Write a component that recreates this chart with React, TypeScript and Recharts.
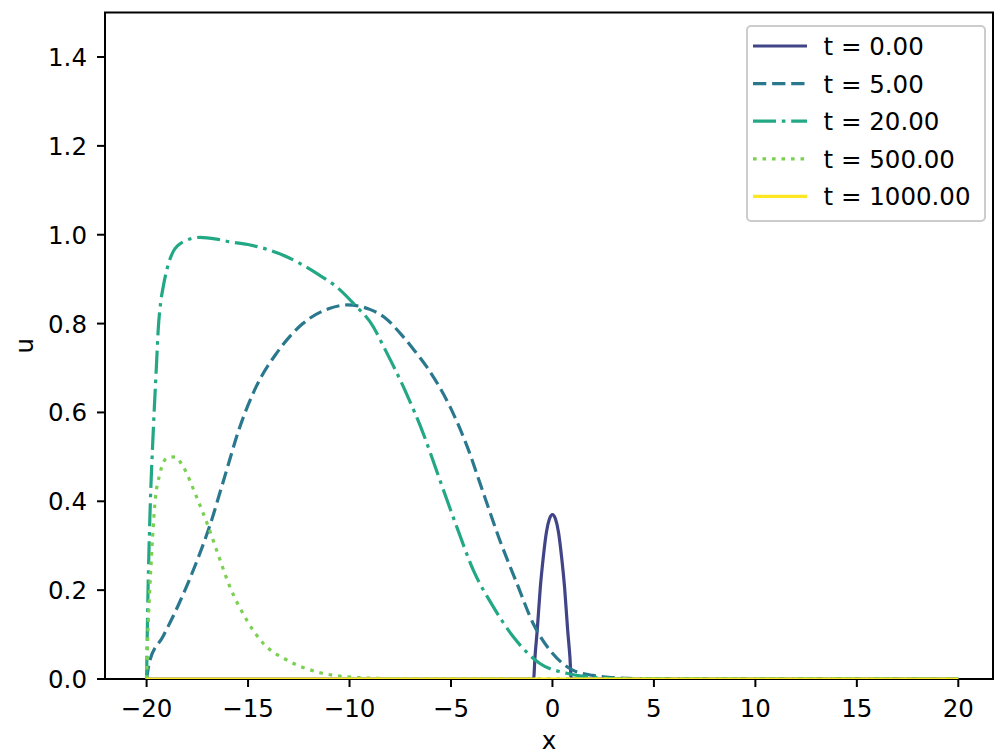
import React from 'react';
import { LineChart, Line, XAxis, YAxis, ReferenceArea, Legend } from 'recharts';

// ---- data ----
const t0X = [-20, -0.93, -0.86, -0.75, -0.6, -0.45, -0.3, -0.15, 0, 0.15, 0.3, 0.45, 0.6, 0.75, 0.86, 0.93, 20];
const t0U = [0, 0, 0.05, 0.11, 0.205, 0.275, 0.33, 0.36, 0.37, 0.36, 0.33, 0.275, 0.205, 0.11, 0.05, 0, 0];

const t5X = [-20, -19.85, -19.2, -18.4, -17.5, -16.9, -16.2, -15.4, -14.6, -13.6, -12.3, -11, -10.1, -9, -8.3, -7.5, -6.9, -6.2, -5.05, -4.2, -3.4, -2.6, -1.75, -0.95, 0, 1, 2, 3, 4, 20];
const t5U = [0, 0.04, 0.095, 0.17, 0.268, 0.343, 0.448, 0.568, 0.658, 0.733, 0.8, 0.834, 0.842, 0.832, 0.815, 0.778, 0.745, 0.703, 0.613, 0.523, 0.418, 0.313, 0.215, 0.125, 0.058, 0.02, 0.008, 0.003, 0.001, 0];

const t20X = [-20, -19.95, -19.84, -19.67, -19.51, -19.43, -19.31, -19.18, -19.01, -18.69, -18.2, -17.37, -16.55, -15.9, -14.9, -13.27, -11.62, -10.47, -9.82, -8.83, -8.34, -7.2, -6.37, -5.55, -4.72, -3.9, -2.92, -1.93, -0.62, 0.7, 2, 3, 20];
const t20U = [0, 0.15, 0.36, 0.56, 0.71, 0.785, 0.846, 0.883, 0.92, 0.962, 0.984, 0.994, 0.99, 0.984, 0.977, 0.954, 0.913, 0.876, 0.846, 0.793, 0.75, 0.643, 0.553, 0.448, 0.343, 0.245, 0.163, 0.095, 0.035, 0.013, 0.004, 0.001, 0];

const t500X = [-20, -19.95, -19.75, -19.59, -19.34, -19.0, -18.6, -18.2, -17.54, -16.96, -16.55, -15.9, -15.07, -14.25, -13.1, -11.6, -10.1, -8, 20];
const t500U = [0, 0.08, 0.283, 0.395, 0.463, 0.497, 0.5, 0.478, 0.41, 0.343, 0.29, 0.208, 0.133, 0.08, 0.043, 0.016, 0.005, 0.001, 0];

const t1000X = [-20, 0, 20];
const t1000U = [0, 0, 0];

const seriesNames = ['t = 0.00', 't = 5.00', 't = 20.00', 't = 500.00', 't = 1000.00'];
const seriesColors = ['#414487', '#2a788e', '#22a884', '#7ad151', '#fde725'];
const seriesDashes = [undefined, '13.3 5.8', '23 5.8 3.6 5.8', '3.6 5.9', undefined];

const xTicks = [-20, -15, -10, -5, 0, 5, 10, 15, 20];
const yTicks = [0, 0.2, 0.4, 0.6, 0.8, 1.0, 1.2, 1.4];
const xDomain = [-22.05, 21.71];
const yDomain = [0, 1.5];
const xLabel = 'x';
const yLabel = 'u';

const zip = (xs: number[], us: number[]) => xs.map((x, i) => ({ x, u: us[i] }));
const seriesData = [zip(t0X, t0U), zip(t5X, t5U), zip(t20X, t20U), zip(t500X, t500U), zip(t1000X, t1000U)];

const FONT = '"DejaVu Sans", sans-serif';
const FS = 24.5;
const LW = 3.2;

const fmtX = (v: number) => (v < 0 ? '\u2212' + Math.abs(v) : String(v));
const fmtY = (v: number) => v.toFixed(1);

const XTick = (props: any) => {
  const { x, y, payload } = props;
  return (
    <text x={x} y={y + 29.5} textAnchor="middle" fontFamily={FONT} fontSize={FS} fill="#000">
      {fmtX(payload.value)}
    </text>
  );
};

const YTick = (props: any) => {
  const { x, y, payload } = props;
  return (
    <text x={x - 10} y={y + 9} textAnchor="end" fontFamily={FONT} fontSize={FS} fill="#000">
      {fmtY(payload.value)}
    </text>
  );
};

const LegendBox = () => (
  <div
    style={{
      width: 240,
      height: 197,
      boxSizing: 'border-box',
      border: '2px solid #cccccc',
      borderRadius: 5,
      background: 'rgba(255,255,255,0.8)',
    }}
  >
    <svg width={236} height={193} style={{ display: 'block' }}>
      {seriesNames.map((n, i) => {
        const cy = 19 + i * 37.6;
        return (
          <g key={n}>
            <line
              x1={5}
              x2={59}
              y1={cy}
              y2={cy}
              stroke={seriesColors[i]}
              strokeWidth={LW}
              strokeDasharray={seriesDashes[i]}
            />
            <text x={75.5} y={cy + 9} fontFamily={FONT} fontSize={FS} fill="#000">
              {n}
            </text>
          </g>
        );
      })}
    </svg>
  </div>
);

export default function App() {
  return (
    <div style={{ position: 'absolute', left: 0, top: 0, width: 1002, height: 756, background: '#fff' }}>
      <LineChart width={1002} height={756} margin={{ top: 12.6, right: 9, bottom: 0, left: 0 }}>
        <XAxis
          type="number"
          dataKey="x"
          domain={xDomain}
          ticks={xTicks}
          allowDataOverflow
          height={77}
          tickSize={8}
          tickMargin={0}
          axisLine={false}
          tickLine={{ stroke: '#000', strokeWidth: 2 }}
          tick={<XTick />}
          interval={0}
          label={{
            value: xLabel,
            content: (p: any) => {
              const vb = p.viewBox;
              return (
                <text x={vb.x + vb.width / 2} y={vb.y + 70} textAnchor="middle" fontFamily={FONT} fontSize={FS} fill="#000">
                  {xLabel}
                </text>
              );
            },
          }}
        />
        <YAxis
          type="number"
          dataKey="u"
          domain={yDomain}
          ticks={yTicks}
          allowDataOverflow
          width={105}
          tickSize={8}
          tickMargin={0}
          axisLine={false}
          tickLine={{ stroke: '#000', strokeWidth: 2 }}
          tick={<YTick />}
          interval={0}
          label={{
            value: yLabel,
            content: (p: any) => {
              const vb = p.viewBox;
              const cx = 33;
              const cy = vb.y + vb.height / 2;
              return (
                <text
                  x={cx}
                  y={cy}
                  transform={`rotate(-90, ${cx}, ${cy})`}
                  textAnchor="middle"
                  fontFamily={FONT}
                  fontSize={FS}
                  fill="#000"
                >
                  {yLabel}
                </text>
              );
            },
          }}
        />
        {seriesData.map((d, i) => (
          <Line
            key={seriesNames[i]}
            data={d}
            dataKey="u"
            name={seriesNames[i]}
            type="monotone"
            stroke={seriesColors[i]}
            strokeWidth={LW}
            strokeDasharray={seriesDashes[i]}
            strokeLinecap="butt"
            dot={false}
            activeDot={false}
            isAnimationActive={false}
          />
        ))}
        <ReferenceArea
          x1={xDomain[0]}
          x2={xDomain[1]}
          y1={yDomain[0]}
          y2={yDomain[1]}
          fill="none"
          stroke="#000"
          strokeWidth={2}
          ifOverflow="visible"
        />
        <Legend
          layout="vertical"
          align="center"
          verticalAlign="middle"
          wrapperStyle={{ left: 746, top: 25, width: 240, height: 197 }}
          content={<LegendBox />}
        />
      </LineChart>
    </div>
  );
}
